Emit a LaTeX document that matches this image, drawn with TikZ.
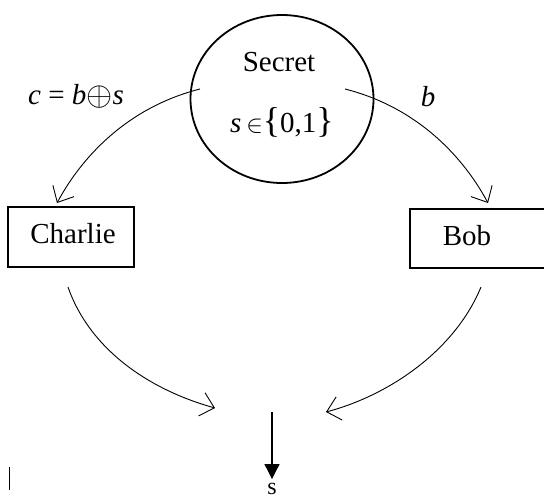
\documentclass[tikz,border=0pt]{standalone}
\usepackage{fontspec}
\setmainfont{Liberation Serif}
\usetikzlibrary{arrows.meta,shapes.geometric}
\begin{document}
\begin{tikzpicture}[x=1pt,y=-1pt,
  conn/.style={line width=0.9pt,-{Straight Barb[length=13pt,width=24pt,line width=0.9pt]}},
  box/.style={draw,line width=1.2pt,rectangle,inner sep=0pt},
  lbl/.style={font=\fontsize{29}{32}\selectfont,inner sep=0pt}]
\useasboundingbox[fill=white] (0,0) rectangle (544,499);
\clip (0,0) rectangle (544,499);
% secret circle
\node[draw,ellipse,line width=1.8pt,minimum width=183pt,minimum height=168pt,inner sep=0pt] (secret) at (282,99) {};
\node[lbl] (sectxt) at (279,62) {Secret};
\node[lbl] (setxt) at (282,122) {\itshape s\,\normalfont$\in$\raisebox{0.5pt}{\fontsize{36}{36}\selectfont\{}0,1\raisebox{0.5pt}{\fontsize{36}{36}\selectfont\}}};
% labels
\node[lbl] (clbl) at (76,96) {\itshape c \normalfont= \itshape b\raisebox{-1pt}{\normalfont\scalebox{1.35}{$\oplus$}}\itshape s};
\node[lbl] (blbl) at (428,97) {\itshape b};
% boxes
\node[box,minimum width=126pt,minimum height=60pt] (charlie) at (71,237) {};
\node[lbl] (chtxt) at (73,234) {Charlie};
\node[box,minimum width=140pt,minimum height=59pt] (bob) at (480,238.5) {};
\node[lbl] (bobtxt) at (467,236) {Bob};
% coordinates
\coordinate (lt1) at (200,89);
\coordinate (lt2) at (57,203);
\coordinate (rt1) at (345,89);
\coordinate (rt2) at (488,203);
\coordinate (lb1) at (68,287);
\coordinate (lb2) at (215,408);
\coordinate (rb1) at (481,287);
\coordinate (rb2) at (326,412);
\coordinate (dtop) at (272,412);
\node[font=\fontsize{24}{26}\selectfont,inner sep=0pt] (s) at (272,489) {s};
% connectors
\draw[conn] (lt1) .. controls (125,108) and (80,160) .. (lt2);
\draw[white,line width=3pt] (147,113) -- (153,110);
\draw[conn] (rt1) .. controls (420,108) and (465,160) .. (rt2);
\draw[conn] (lb1) .. controls (90,350) and (150,390) .. (lb2);
\draw[conn] (rb1) .. controls (455,350) and (390,395) .. (rb2);
\draw[line width=1.2pt,-{Triangle[length=15pt,width=15pt]},shorten >=4pt] (dtop) -- (s.north);
% stray cursor bar
\coordinate (bar1) at (9,467);
\coordinate (bar2) at (9,490);
\draw[line width=0.8pt] (bar1) -- (bar2);
\end{tikzpicture}
\end{document}
